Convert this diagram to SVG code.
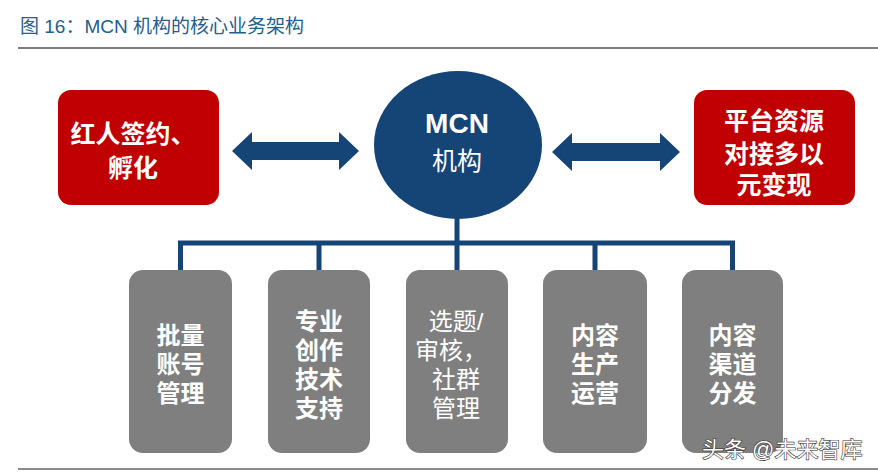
<svg xmlns="http://www.w3.org/2000/svg" width="878" height="473" viewBox="0 0 878 473">
<style>
.title{font-family:"Liberation Sans","Noto Sans CJK SC",sans-serif;font-size:19px;fill:#21608f}
.red{fill:#c00000}
.navy{fill:#154477}
.gray{fill:#7f7f7f}
.wt{font-family:"Liberation Sans","Noto Sans CJK SC",sans-serif;fill:#ffffff;text-anchor:middle;font-weight:bold}
.big{font-size:25px}
.box{font-size:24px}
.lite{font-weight:normal}
.conn{stroke:#154477;stroke-width:5;fill:none}
.wm{font-family:"Liberation Sans","Noto Sans CJK SC",sans-serif;font-size:22px;fill:#ffffff;stroke:#333333;stroke-width:1.2;paint-order:stroke}
</style>
<rect width="878" height="473" fill="#ffffff"/>
<text class="title" x="20" y="33">图 16：MCN 机构的核心业务架构</text>
<line x1="18" y1="48" x2="878" y2="48" stroke="#555555" stroke-width="1.5"/>
<line x1="18" y1="469" x2="878" y2="469" stroke="#666666" stroke-width="1.5"/>

<g id="connectors">
<polygon class="navy" points="232,151 252,132 252,142 339,142 339,132 359,151 339,170 339,160 252,160 252,170"/>
<polygon class="navy" points="552,152 572,133 572,143 660,143 660,133 680,152 660,171 660,161 572,161 572,171"/>
<path class="conn" d="M457,215 V243 M180.5,270 V243 H732.5 V270 M319,243 V270 M457,243 V270 M595,243 V270"/>
</g>

<g id="node-left">
<rect class="red" x="58" y="90" width="161" height="115" rx="13"/>
<text class="wt big"><tspan x="133" y="143">红人签约、</tspan><tspan x="133" y="177">孵化</tspan></text>
</g>

<g id="node-mcn">
<ellipse class="navy" cx="458" cy="145" rx="84" ry="74"/>
<text class="wt" x="457" y="133" font-size="28">MCN</text>
<text class="wt big lite" x="457" y="170" font-size="27">机构</text>
</g>

<g id="node-right">
<rect class="red" x="694" y="90" width="161" height="115" rx="13"/>
<text class="wt big"><tspan x="774" y="130">平台资源</tspan><tspan x="774" y="163">对接多以</tspan><tspan x="774" y="194">元变现</tspan></text>
</g>

<g id="node-1">
<rect class="gray" x="129" y="270" width="103" height="183" rx="14"/>
<text class="wt box"><tspan x="180.5" y="344">批量</tspan><tspan x="180.5" y="373">账号</tspan><tspan x="180.5" y="402">管理</tspan></text>
</g>

<g id="node-2">
<rect class="gray" x="268" y="270" width="102" height="183" rx="14"/>
<text class="wt box"><tspan x="319" y="330">专业</tspan><tspan x="319" y="359">创作</tspan><tspan x="319" y="388">技术</tspan><tspan x="319" y="417">支持</tspan></text>
</g>

<g id="node-3">
<rect class="gray" x="406" y="270" width="102" height="183" rx="14"/>
<text class="wt box lite"><tspan x="456" y="330">选题/</tspan><tspan x="451" y="359">审核，</tspan><tspan x="456" y="388">社群</tspan><tspan x="456" y="417">管理</tspan></text>
</g>

<g id="node-4">
<rect class="gray" x="543" y="270" width="104" height="183" rx="14"/>
<text class="wt box"><tspan x="595" y="344">内容</tspan><tspan x="595" y="373">生产</tspan><tspan x="595" y="402">运营</tspan></text>
</g>

<g id="node-5">
<rect class="gray" x="682" y="270" width="101" height="183" rx="14"/>
<text class="wt box"><tspan x="732.5" y="344">内容</tspan><tspan x="732.5" y="373">渠道</tspan><tspan x="732.5" y="402">分发</tspan></text>
</g>

<text class="wm" x="702" y="457">头条 @未来智库</text>
</svg>
